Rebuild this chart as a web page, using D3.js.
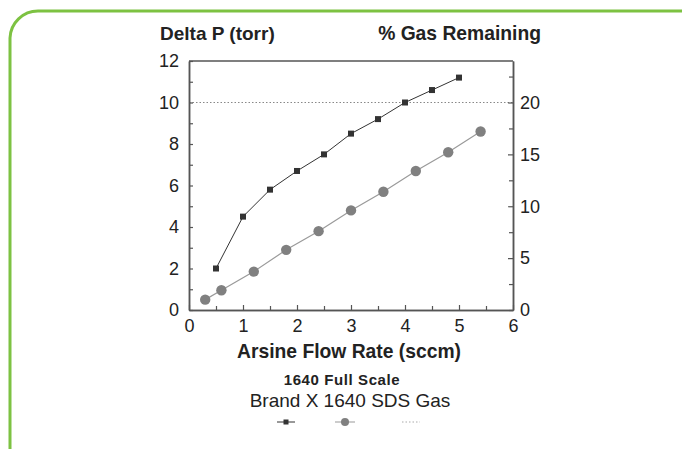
<!DOCTYPE html>
<html><head><meta charset="utf-8">
<script src="https://cdn.jsdelivr.net/npm/d3@7"></script>
<style>
body{margin:0;background:#fff;}
svg{display:block;font-family:"Liberation Sans",Arial,sans-serif;}
</style></head>
<body>
<svg id="c" width="682" height="449"></svg>
<script>
// Data
const flowSquares = [0.5, 1, 1.5, 2, 2.5, 3, 3.5, 4, 4.5, 5];
const deltaP = [2.0, 4.5, 5.8, 6.7, 7.5, 8.5, 9.2, 10.0, 10.6, 11.2];
const flowCircles = [0.3, 0.6, 1.2, 1.8, 2.4, 3.0, 3.6, 4.2, 4.8, 5.4];
const gasRemaining = [1.0, 1.9, 3.7, 5.8, 7.6, 9.6, 11.4, 13.4, 15.2, 17.2];
const refLineValue = 10;
const xTicks = [0, 1, 2, 3, 4, 5, 6];
const xMinor = [0.5, 1.5, 2.5, 3.5, 4.5, 5.5];
const yLeftTicks = [0, 2, 4, 6, 8, 10, 12];
const yLeftMinor = [1, 3, 5, 7, 9, 11];
const yRightTicks = [0, 5, 10, 15, 20];
const yRightMinor = [2.5, 7.5, 12.5, 17.5, 22.5];
const titles = {left: "Delta P (torr)", right: "% Gas Remaining", x: "Arsine Flow Rate (sccm)",
  sub1: "1640 Full Scale", sub2: "Brand X 1640 SDS Gas"};

const svg = d3.select("#c");
const L = 189, R = 513, T = 61, B = 310;
const x = d3.scaleLinear().domain([0, 6]).range([L, R]);
const yL = d3.scaleLinear().domain([0, 12]).range([B, T]);
const yR = d3.scaleLinear().domain([0, 24]).range([B, T]);

// green frame
svg.append("path")
  .attr("d", `M10,455 L10,38 A28,28 0 0 1 38,11 L690,11`)
  .attr("fill", "none").attr("stroke", "#7dc242").attr("stroke-width", 3);

const axisColor = "#555";
const txt = "#222";

// reference dotted line
svg.append("line").attr("x1", L).attr("x2", R).attr("y1", yL(refLineValue)).attr("y2", yL(refLineValue))
  .attr("stroke", "#888").attr("stroke-width", 1).attr("stroke-dasharray", "1.5,2");

function styleAxis(g) {
  g.select(".domain").attr("stroke", axisColor).attr("stroke-width", 1.5);
  g.selectAll(".tick line").attr("stroke", axisColor).attr("stroke-width", 1.2);
  g.selectAll(".tick text").attr("fill", txt).attr("font-size", 18)
    .attr("font-family", "Liberation Sans, Arial, sans-serif");
}

// x axis
const gx = svg.append("g").attr("transform", `translate(0,${B})`)
  .call(d3.axisBottom(x).tickValues(xTicks).tickFormat(d3.format("d")).tickSize(-5).tickSizeOuter(0).tickPadding(9));
styleAxis(gx);
const gxm = svg.append("g").attr("transform", `translate(0,${B})`)
  .call(d3.axisBottom(x).tickValues(xMinor).tickFormat("").tickSize(-4).tickSizeOuter(0));
styleAxis(gxm);

// left axis
const gl = svg.append("g").attr("transform", `translate(${L},0)`)
  .call(d3.axisLeft(yL).tickValues(yLeftTicks).tickFormat(d3.format("d")).tickSize(-4).tickSizeOuter(0).tickPadding(10));
styleAxis(gl);
const glm = svg.append("g").attr("transform", `translate(${L},0)`)
  .call(d3.axisLeft(yL).tickValues(yLeftMinor).tickFormat("").tickSize(-4).tickSizeOuter(0));
styleAxis(glm);

// right axis
const gr = svg.append("g").attr("transform", `translate(${R},0)`)
  .call(d3.axisRight(yR).tickValues(yRightTicks).tickFormat(d3.format("d")).tickSize(-5).tickSizeOuter(0).tickPadding(7));
styleAxis(gr);
const grm = svg.append("g").attr("transform", `translate(${R},0)`)
  .call(d3.axisRight(yR).tickValues(yRightMinor).tickFormat("").tickSize(-4).tickSizeOuter(0));
styleAxis(grm);

// top frame
svg.append("line").attr("x1", L).attr("x2", R).attr("y1", T).attr("y2", T)
  .attr("stroke", axisColor).attr("stroke-width", 1.5);

// series 2 (circles, right axis)
const circData = flowCircles.map((f, i) => [f, gasRemaining[i]]);
svg.append("path").datum(circData)
  .attr("d", d3.line().x(d => x(d[0])).y(d => yR(d[1])))
  .attr("fill", "none").attr("stroke", "#9a9a9a").attr("stroke-width", 1.2);
svg.selectAll(".cir").data(circData).enter().append("circle")
  .attr("cx", d => x(d[0])).attr("cy", d => yR(d[1])).attr("r", 5.2)
  .attr("fill", "#808080");

// series 1 (squares, left axis)
const sqData = flowSquares.map((f, i) => [f, deltaP[i]]);
svg.append("path").datum(sqData)
  .attr("d", d3.line().x(d => x(d[0])).y(d => yL(d[1])))
  .attr("fill", "none").attr("stroke", "#333").attr("stroke-width", 1);
svg.selectAll(".sq").data(sqData).enter().append("rect")
  .attr("x", d => x(d[0]) - 3).attr("y", d => yL(d[1]) - 3).attr("width", 6).attr("height", 6)
  .attr("fill", "#333");

// titles
svg.append("text").attr("x", 160).attr("y", 40).text(titles.left)
  .attr("font-weight", "bold").attr("font-size", 19).attr("fill", txt);
svg.append("text").attr("x", 541).attr("y", 40).attr("text-anchor", "end").text(titles.right)
  .attr("font-weight", "bold").attr("font-size", 19.3).attr("fill", txt);
svg.append("text").attr("x", 349).attr("y", 358).attr("text-anchor", "middle").text(titles.x)
  .attr("font-weight", "bold").attr("font-size", 19.3).attr("fill", txt);
svg.append("text").attr("x", 342).attr("y", 385).attr("text-anchor", "middle").text(titles.sub1)
  .attr("font-weight", "bold").attr("font-size", 15).attr("letter-spacing", 0.6).attr("fill", txt);
svg.append("text").attr("x", 350).attr("y", 407).attr("text-anchor", "middle").text(titles.sub2)
  .attr("font-size", 19).attr("fill", txt);

// legend symbols
const ly = 422;
svg.append("line").attr("x1", 277).attr("x2", 295).attr("y1", ly).attr("y2", ly).attr("stroke", "#333");
svg.append("rect").attr("x", 283.5).attr("y", ly - 2.5).attr("width", 5).attr("height", 5).attr("fill", "#333");
svg.append("line").attr("x1", 335).attr("x2", 355).attr("y1", ly).attr("y2", ly).attr("stroke", "#999");
svg.append("circle").attr("cx", 345).attr("cy", ly).attr("r", 4).attr("fill", "#808080");
svg.append("line").attr("x1", 402).attr("x2", 420).attr("y1", ly).attr("y2", ly)
  .attr("stroke", "#aaa").attr("stroke-dasharray", "1.5,2");
</script>
</body></html>
